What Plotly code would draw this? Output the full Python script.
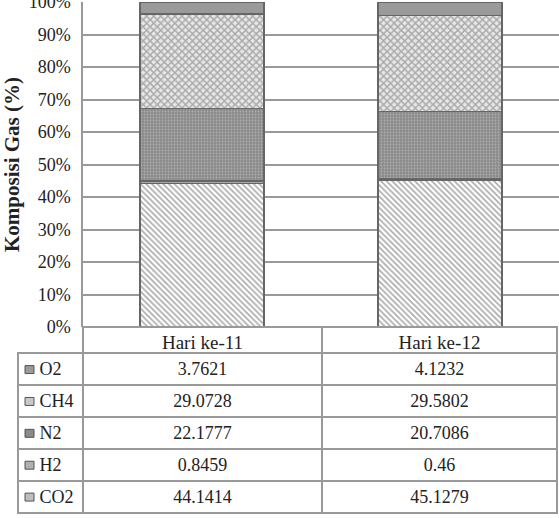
import plotly.graph_objects as go

FONT = "Liberation Serif"

days = ["Hari ke-11", "Hari ke-12"]
gases = ["CO2", "H2", "N2", "CH4", "O2"]  # bottom to top
co2 = [44.1414, 45.1279]
h2 = [0.8459, 0.46]
n2 = [22.1777, 20.7086]
ch4 = [29.0728, 29.5802]
o2 = [3.7621, 4.1232]
y_ticks = [0, 10, 20, 30, 40, 50, 60, 70, 80, 90, 100]
y_labels = [f"{v}%" for v in y_ticks]

series = {"CO2": co2, "H2": h2, "N2": n2, "CH4": ch4, "O2": o2}

styles = {
    "CO2": dict(color="white", pattern=dict(shape="\\", fgcolor="#555", bgcolor="white", size=4, solidity=0.4)),
    "H2": dict(color="#a8a8a8"),
    "N2": dict(color="#8a8a8a", pattern=dict(shape=".", fgcolor="#d0d0d0", bgcolor="#8a8a8a", size=3, solidity=0.3)),
    "CH4": dict(color="white", pattern=dict(shape="x", fgcolor="#6e6e6e", bgcolor="#e8e8e8", size=5, solidity=0.5)),
    "O2": dict(color="#9a9a9a"),
}
swatch_fill = {"O2": "#9a9a9a", "CH4": "#c8c8c8", "N2": "#8a8a8a", "H2": "#b0b0b0", "CO2": "#bdbdbd"}

W, H = 559, 518
top_m = 2
plot_bottom = 327
dom_low = (H - plot_bottom) / (H - top_m)
tbl_left, col_split, tbl_right = 18, 83, 557
head_h, row_h = 26, 32

fig = go.Figure()
for g in gases:
    fig.add_trace(go.Bar(
        x=days, y=series[g], name=g, width=0.52,
        marker=dict(**styles[g], line=dict(color="#666", width=1.5)),
        showlegend=False,
    ))

# data table under the chart (top row to bottom row)
table_rows = ["O2", "CH4", "N2", "H2", "CO2"]
label_col = ["\u00a0\u00a0\u00a0" + g for g in table_rows]
day1_col = [f"{series[g][0]}" for g in table_rows]
day2_col = [f"{series[g][1]}" for g in table_rows]

fig.add_trace(go.Table(
    domain=dict(x=[tbl_left / W, tbl_right / W], y=[0, dom_low]),
    columnwidth=[col_split - tbl_left, 322 - col_split, tbl_right - 322],
    header=dict(
        values=[""] + days,
        height=head_h,
        fill=dict(color=["rgba(0,0,0,0)", "white", "white"]),
        line=dict(color=["rgba(0,0,0,0)", "#999", "#999"], width=1.5),
        font=dict(family=FONT, size=19, color="#222"),
        align="center",
    ),
    cells=dict(
        values=[label_col, day1_col, day2_col],
        height=row_h,
        fill=dict(color="white"),
        line=dict(color="#999", width=1.5),
        font=dict(family=FONT, size=18, color="#222"),
        align=["left", "center", "center"],
    ),
))

# legend keys inside the label column
shapes = []
for i, g in enumerate(table_rows):
    top = plot_bottom + head_h + i * row_h + 12
    shapes.append(dict(
        type="rect", xref="paper", yref="paper",
        x0=25 / W, x1=34 / W, y0=(H - top - 8) / H, y1=(H - top) / H,
        fillcolor=swatch_fill[g], line=dict(color="#555", width=1),
    ))

fig.update_layout(
    width=W, height=H,
    margin=dict(l=0, r=0, t=top_m, b=0, autoexpand=False),
    barmode="stack",
    plot_bgcolor="white", paper_bgcolor="white",
    font=dict(family=FONT, size=18, color="#222"),
    shapes=shapes,
    xaxis=dict(domain=[col_split / W, 1], range=[-0.5, 1.5], showticklabels=False,
               showgrid=False, zeroline=False, anchor="y", automargin=False),
    yaxis=dict(domain=[dom_low, 1], range=[0, 100], tickvals=y_ticks, ticktext=y_labels,
               showgrid=True, gridcolor="#999", gridwidth=1.5, automargin=False,
               showline=True, linecolor="#999", linewidth=1.5, zeroline=False,
               ticks="", ticklabelstandoff=7, ticklabeloverflow="allow",
               tickfont=dict(family=FONT, size=18, color="#222"),
               title=dict(text="<b>Komposisi Gas (%)</b>", standoff=10,
                          font=dict(family=FONT, size=21, color="#222"))),
)

fig.write_html("out.html", config={"displayModeBar": False},
               post_script="document.body.style.margin='0';")
